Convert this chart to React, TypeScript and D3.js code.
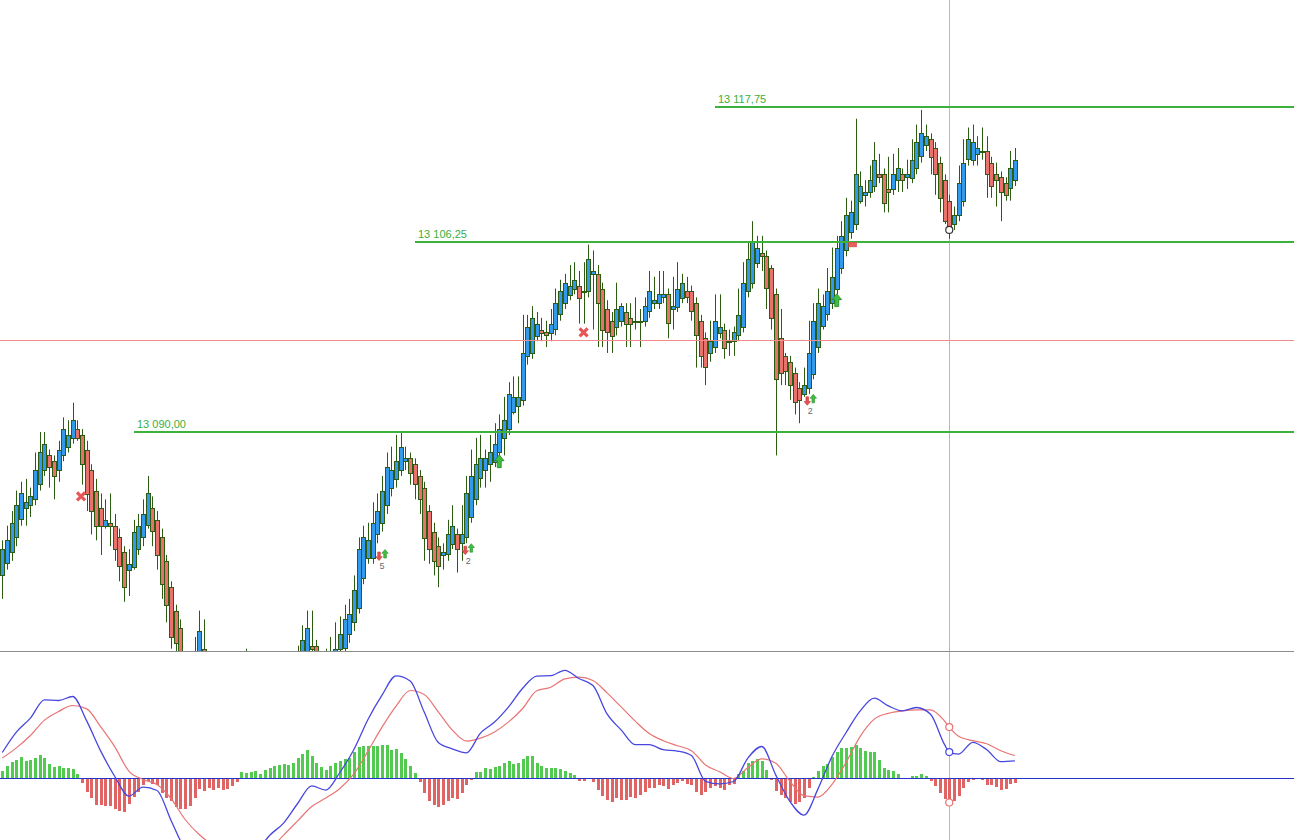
import * as d3 from "d3";
import { useEffect, useRef } from "react";

// OHLC per bar
const open = [
  13077.75, 13078.75, 13079.75, 13081, 13082.5, 13083.5, 13083.75, 13084.25, 13085.5, 13086.75,
  13088, 13087.5, 13086.75, 13088, 13088.75, 13089.5, 13090.25, 13089.75, 13088.5, 13086.75,
  13085, 13083.5, 13082, 13082.25, 13082, 13081, 13079.75, 13078.25, 13078.5, 13080,
  13081, 13082, 13083.5, 13082.5, 13081, 13079, 13076.75, 13074.75, 13073.25, 13069.5,
  13068.25, 13069.25, 13070.25, 13071.5, 13068.75, 13067, 13065.5, 13066.25, 13064.5, 13063.25,
  13064, 13066, 13068.75, 13068, 13066, 13064.5, 13065.5, 13064.25, 13065.75, 13067,
  13066.25, 13067.5, 13069, 13068.5, 13070.25, 13070.75, 13071.75, 13071.75, 13069.75, 13069,
  13070.25, 13070.5, 13071.5, 13071.5, 13072.75, 13073.75, 13075, 13077.5, 13079.25, 13079.25,
  13081.25, 13082.25, 13083.75, 13085.25, 13086, 13086.75, 13087.5, 13087.75, 13087.25, 13086.25,
  13085.25, 13083.25, 13081.5, 13080.25, 13079.5, 13079.5, 13080.5, 13081.25, 13080.5, 13081,
  13082.75, 13084.25, 13086, 13086.75, 13087.25, 13087.5, 13088.25, 13089.5, 13090.25, 13091.75,
  13092.25, 13092.75, 13096.5, 13096.75, 13098.25, 13098.75, 13098.5, 13098.5, 13098.75, 13100,
  13101, 13101.75, 13102.25, 13102.5, 13102, 13102, 13103.5, 13103.5, 13102.25, 13100.5,
  13099.5, 13099, 13099.5, 13100.25, 13099.75, 13099.5, 13099.5, 13099.5, 13100.25, 13101,
  13101, 13101.5, 13101.75, 13100.5, 13100.75, 13101.5, 13102, 13102, 13101, 13099.5,
  13098, 13096.75, 13097.25, 13098.5, 13098.75, 13097.75, 13097.75, 13098.25, 13099, 13102,
  13102.75, 13104.5, 13105.25, 13105, 13104, 13101.75, 13098, 13096.5, 13096, 13095,
  13093.75, 13093.25, 13093.75, 13095, 13097.25, 13099, 13100, 13101, 13102.25, 13104,
  13105.5, 13107, 13107.75, 13109.75, 13110.25, 13110.5, 13111, 13112, 13112, 13110.75,
  13110.75, 13111.5, 13112, 13111.75, 13111.75, 13112.5, 13113.5, 13114.5, 13115, 13114.25,
  13113, 13111.5, 13109.75, 13107.75, 13108.5, 13109.75, 13113.25, 13113.25, 13113.75, 13114,
  13114, 13113, 13112, 13111.75, 13111.25, 13110.75, 13111.5,
];

const high = [
  13080.75, 13082, 13083.25, 13085, 13085.75, 13086, 13085.25, 13088.25, 13090, 13090,
  13088.5, 13088, 13089.25, 13091.25, 13091, 13092.5, 13091, 13090.25, 13089.25, 13087.25,
  13086, 13084.75, 13084.25, 13084.75, 13083, 13081.75, 13080.25, 13080, 13082.5, 13083,
  13084.25, 13086.25, 13084.5, 13083.25, 13081.75, 13079.5, 13077.25, 13075.25, 13074, 13070.5,
  13069.75, 13072.5, 13074.75, 13074, 13070, 13068.5, 13067, 13067.75, 13066, 13064.75,
  13066.5, 13069.5, 13071.5, 13069.5, 13067.5, 13066, 13067, 13066.25, 13067.5, 13068.25,
  13068, 13069.5, 13070.25, 13071.75, 13073.5, 13074.75, 13074.75, 13072.25, 13070.75, 13071.5,
  13072.5, 13073.75, 13074.25, 13075.25, 13075.75, 13077.75, 13081, 13082, 13082.25, 13084,
  13084.75, 13086.25, 13088.25, 13088.75, 13089.75, 13090, 13088.75, 13088.25, 13087.75, 13086.75,
  13085.75, 13083.75, 13082.25, 13081, 13080.5, 13082.5, 13083.75, 13081.75, 13083.75, 13086.25,
  13088.5, 13089.5, 13089.75, 13088.5, 13089.75, 13090.75, 13091.5, 13093, 13094.25, 13094.75,
  13094.75, 13100, 13100, 13100.75, 13100.25, 13099.75, 13099.5, 13100.5, 13102.25, 13103,
  13103.5, 13104.25, 13104.5, 13103.75, 13104.5, 13106, 13105.5, 13104.25, 13102.75, 13101.25,
  13100.25, 13102.75, 13101, 13101, 13101, 13101.5, 13100.5, 13101.5, 13103.75, 13103.25,
  13103.75, 13103.75, 13102.25, 13103.25, 13104.5, 13103.5, 13103.25, 13102.5, 13101.5, 13100,
  13098.5, 13099.5, 13101.75, 13101.75, 13099.25, 13098.75, 13099, 13102.25, 13104.5, 13106.25,
  13108, 13106.75, 13106.75, 13105.5, 13104.25, 13102.25, 13100.5, 13096.75, 13096.5, 13095.5,
  13094.25, 13095.5, 13099.5, 13101, 13102.25, 13101.75, 13104, 13105.75, 13106.75, 13108,
  13110, 13109.75, 13116.75, 13112.25, 13111.5, 13112.75, 13114.75, 13113.75, 13112.5, 13113.5,
  13113.75, 13114.25, 13112.5, 13113.25, 13115, 13116.25, 13117.5, 13116.25, 13115.5, 13114.75,
  13113.5, 13112, 13110.25, 13109.25, 13112.75, 13115, 13116, 13116.25, 13115.25, 13116,
  13115.25, 13113.5, 13113, 13112.25, 13111.75, 13114, 13114.25,
];

const low = [
  13075.75, 13078.25, 13079, 13080.25, 13082, 13082, 13082.75, 13083.75, 13085, 13086.25,
  13085.25, 13084.25, 13085.75, 13087.5, 13088.25, 13089, 13089.25, 13085.5, 13083.25, 13081.25,
  13080.75, 13079.5, 13081.75, 13080.25, 13079, 13077.25, 13075.5, 13076, 13078.25, 13079.5,
  13080.25, 13081.75, 13080.25, 13078.25, 13075.75, 13073.75, 13071.5, 13070.5, 13068.5, 13067.75,
  13067, 13068.25, 13069.5, 13067.5, 13066.5, 13065, 13064.25, 13064, 13062.75, 13061.75,
  13063.5, 13065.25, 13067.5, 13065.5, 13064, 13063, 13063.75, 13063.5, 13064.75, 13065.5,
  13065.25, 13066.75, 13067.5, 13067.75, 13069.5, 13070, 13070, 13069, 13068.25, 13068.5,
  13069.25, 13069.75, 13070.75, 13070.75, 13072, 13073, 13074.5, 13077, 13078.75, 13078.75,
  13080.5, 13081.5, 13083, 13084.5, 13085.25, 13086.25, 13086.75, 13085.5, 13084.25, 13083,
  13079, 13078.75, 13077.75, 13076.75, 13078.25, 13079, 13080, 13078, 13079, 13080.5,
  13082.25, 13083.75, 13085.25, 13085.25, 13085.75, 13087, 13087.75, 13088, 13089.75, 13091.5,
  13090.75, 13092.25, 13095.75, 13096.25, 13097.75, 13097.75, 13097.25, 13097.75, 13098.25, 13099.5,
  13100.5, 13101.25, 13101.75, 13099.25, 13099.25, 13101.5, 13098.75, 13097.25, 13097.25, 13096.75,
  13096.75, 13098.25, 13099, 13097.25, 13097.25, 13098.75, 13097.25, 13099, 13099.75, 13100.5,
  13100.5, 13101, 13098, 13098.75, 13100.25, 13101, 13101, 13099.5, 13095.5, 13095.5,
  13094, 13096, 13096.75, 13098, 13096.25, 13096.5, 13096.5, 13097.75, 13098.5, 13101.5,
  13102.25, 13104, 13103.75, 13100.5, 13098.75, 13088, 13094, 13094, 13092.75, 13091.5,
  13090.75, 13093, 13093.25, 13094.5, 13096.75, 13098.75, 13099.5, 13100.5, 13101.75, 13103.5,
  13105, 13106.5, 13107.25, 13109.5, 13109.25, 13110, 13110.5, 13111.25, 13108.75, 13108.75,
  13110.25, 13110.5, 13110.5, 13110.75, 13111.25, 13112, 13113, 13114, 13112, 13110.25,
  13108.75, 13107.75, 13106.5, 13107.25, 13108, 13109.25, 13112.75, 13112.75, 13112.75, 13113.25,
  13110, 13110, 13109.25, 13108, 13109.75, 13109.75, 13111,
];

const close = [
  13080, 13080.75, 13082.25, 13083.75, 13084.75, 13084, 13084.5, 13086.75, 13088.25, 13089,
  13087, 13086.25, 13088.5, 13090.25, 13089.75, 13091, 13089.5, 13087.25, 13084.75, 13083.25,
  13082, 13082, 13082.5, 13082, 13080, 13078.5, 13076.75, 13078.75, 13081.5, 13082,
  13083, 13084.75, 13081.5, 13079.5, 13077, 13075.25, 13072.5, 13072, 13069.5, 13068.25,
  13069.25, 13070.5, 13073, 13068.75, 13067, 13065.5, 13066.25, 13064.5, 13063.25, 13064,
  13066, 13068.75, 13068, 13066, 13064.5, 13065.5, 13064.25, 13065.75, 13067, 13066.25,
  13067.5, 13069, 13068.5, 13070.5, 13072.25, 13073.25, 13071.5, 13069.75, 13069, 13070.25,
  13070.75, 13071.5, 13072.75, 13074, 13074.5, 13076.5, 13080, 13081, 13080.75, 13082.25,
  13083.25, 13085, 13087, 13086.75, 13087.5, 13088.75, 13087.75, 13086.5, 13085.5, 13084.25,
  13081, 13080, 13079, 13078.5, 13079.75, 13081.25, 13082, 13080, 13081.25, 13084.75,
  13086.25, 13087.25, 13087.75, 13087.75, 13088.25, 13089, 13090.25, 13091, 13093.25, 13093,
  13093, 13096.75, 13099, 13099.75, 13099.25, 13098.5, 13098.25, 13099.25, 13101, 13102,
  13102.75, 13102.5, 13103, 13101.5, 13102, 13104.75, 13103.75, 13101, 13098.75, 13098.5,
  13098.25, 13100.5, 13100.75, 13099.25, 13099.25, 13099.5, 13099.5, 13100.75, 13102, 13101.25,
  13101.75, 13101.75, 13099.25, 13100.75, 13102.25, 13102.75, 13101.5, 13100.25, 13098.25, 13096.5,
  13095.5, 13097.75, 13099.5, 13099, 13097.25, 13097.75, 13098.5, 13100, 13102.75, 13104.75,
  13106.25, 13105.75, 13105, 13102.25, 13099.75, 13094.5, 13095, 13095.25, 13094, 13092.5,
  13092.75, 13094, 13096.75, 13099.5, 13101, 13100.75, 13102, 13103.25, 13105.75, 13106.75,
  13108.5, 13108.75, 13112, 13111, 13110.5, 13111.5, 13113.25, 13111.75, 13109.5, 13110.5,
  13112, 13112.5, 13111.5, 13112, 13113.25, 13114.75, 13115.5, 13115.25, 13113.5, 13112,
  13110, 13108, 13107.25, 13108.5, 13111.25, 13113, 13115, 13114.75, 13114.25, 13114,
  13112, 13111, 13111.5, 13110.5, 13110.25, 13112.5, 13113.25,
];

// MACD histogram, one value per bar
const histogram = [
  0.32, 0.57, 0.77, 0.87, 1.02, 0.82, 0.87, 0.97, 1.12, 0.97, 0.67, 0.52, 0.57, 0.47, 0.47, 0.42, 0.17,
  -0.27, -0.72, -1.02, -1.37, -1.37, -1.42, -1.42, -1.57, -1.67, -1.72, -1.32, -0.97, -0.72, -0.35, -0.15, -0.3,
  -0.37, -0.77, -1.02, -1.17, -1.47, -1.57, -1.57, -1.42, -1.02, -0.57, -0.67, -0.52, -0.62, -0.52, -0.62, -0.57,
  -0.42, -0.22,
  0.27, 0.22, 0.27, 0.32, 0.17, 0.37, 0.47, 0.57, 0.62, 0.67, 0.62, 0.72, 0.97, 1.17, 1.37, 1.07, 0.72, 0.52,
  0.37, 0.57, 0.72, 0.82, 0.92, 0.97, 1.27, 1.52, 1.57, 1.57, 1.57, 1.57, 1.62, 1.62, 1.37, 1.42, 1.22, 0.92,
  0.57, 0.22,
  -0.22, -0.77, -1.17, -1.37, -1.47, -1.37, -1.17, -1.02, -1.07, -0.77, -0.37, -0.12,
  0.27, 0.27, 0.47, 0.42, 0.52, 0.57, 0.72, 0.82, 0.67, 0.72, 0.92, 1.07, 1.07, 0.72, 0.57, 0.47, 0.47, 0.47,
  0.42, 0.32, 0.22, 0.12,
  -0.15, -0.15, -0.08, -0.22, -0.62, -0.92, -1.12, -1.22, -1.02, -1.12, -1.12, -0.98, -1.02, -0.88, -0.72, -0.52,
  -0.52, -0.35, -0.42, -0.57, -0.35, -0.25, -0.15, -0.3, -0.35, -0.72, -0.88, -0.72, -0.52, -0.42, -0.52, -0.62,
  -0.35, -0.3,
  0.17, 0.32, 0.72, 0.82, 0.92, 0.82, 0.37,
  -0.1, -0.65, -0.85, -1.02, -1.22, -1.32, -1.22, -1.02, -0.52,
  0.02, 0.32, 0.57, 0.67, 1.02, 1.27, 1.47, 1.47, 1.52, 1.62, 1.47, 1.32, 1.27, 1.27, 0.87, 0.47, 0.37, 0.32, 0.17,
  -0.05, -0.05,
  0.07, 0.07, 0.17, 0.07,
  -0.15, -0.42, -0.77, -1.07, -1.25, -1.17, -0.92, -0.52, -0.22, -0.12, -0.03, -0.12, -0.37, -0.37, -0.47, -0.62,
  -0.57, -0.32, -0.27,
];

// MACD / signal lines, read at these bars
const lineIdx = [
  0, 3, 6, 9, 12, 15, 18, 21, 24, 27, 30, 33, 36, 39, 42, 45, 48, 51, 54, 57,
  60, 63, 66, 69, 72, 75, 78, 81, 84, 87, 90, 93, 96, 99, 102, 105, 108, 111, 114, 117,
  120, 123, 126, 129, 132, 135, 138, 141, 144, 147, 150, 153, 156, 159, 162, 165, 168, 171, 174, 177,
  180, 183, 186, 189, 192, 195, 198, 201, 202, 204, 207, 210, 213, 216,
];
const macdLine = [
  1.25, 2.27, 2.97, 3.88, 3.85, 4.05, 2.83, 1.32, 0.05, -0.93, -0.48, -0.65, -2.15, -3.6, -4.3, -4.8, -4.8, -4.4, -3.8, -2.9,
  -2.28, -1.3, -0.42, -0.63, 0.25, 1.4, 2.9, 4.12, 5.08, 4.82, 3.27, 1.75, 1.43, 1.23, 2.22, 2.77, 3.53, 4.46, 5.07, 5.09,
  5.36, 4.95, 4.6, 3.18, 2.38, 1.64, 1.64, 1.39, 1.32, 1.1, -0.19, -0.32, -0.2, 0.96, 1.55, 0.12, -1.2, -1.88, -0.57, 1.06,
  2.25, 3.33, 3.97, 3.58, 3.33, 3.5, 3.16, 1.64, 1.27, 1.17, 1.76, 1.39, 0.79, 0.83,
];
const signalLine = [
  0.97, 1.48, 2.1, 2.87, 3.3, 3.6, 3.43, 2.53, 1.53, 0.32, -0.1, -0.35, -1.05, -2.1, -2.85, -3.4, -3.8, -4.0, -3.9, -3.6,
  -2.88, -2.17, -1.45, -1.03, -0.55, 0.18, 1.32, 2.52, 3.57, 4.35, 4.15, 3.28, 2.37, 1.82, 1.97, 2.28, 2.78, 3.45, 4.34, 4.51,
  4.93, 5.02, 4.85, 4.23, 3.53, 2.82, 2.2, 1.84, 1.59, 1.34, 0.63, 0.29, -0.05, 0.49, 0.93, 0.71, -0.19, -0.91, -0.98, -0.34,
  0.76, 2.06, 2.92, 3.21, 3.33, 3.38, 3.38, 2.82, 2.52, 2.06, 1.84, 1.69, 1.34, 1.1,
];

// horizontal levels
const levels = [13090, 13106.25, 13117.75];
const levelLabels = ["13 090,00", "13 106,25", "13 117,75"];
const levelFrom = [28, 88, 152];
const refLevel = 13097.85;
const crossIndex = 202;

// signal markers
const crossMarkIdx = [16.8, 124];
const crossMarkPrice = [13084.5, 13098.5];
const bigUpIdx = [106, 178];
const bigUpPrice = [13087.5, 13101.25];
const pairIdx = [81, 99.4, 172.35];
const pairPrice = [13079.5, 13080, 13092.75];
const pairLabel = ["5", "2", "2"];
const boxIdx = 181.4;
const boxPrice = 13106;

const W = 1294;
const H = 840;

export default function App() {
  const ref = useRef<SVGSVGElement | null>(null);

  useEffect(() => {
    if (!ref.current) return;
    const svg = d3.select(ref.current);
    svg.selectAll("*").remove();

    const paneBottom = 651;
    const idx = d3.range(close.length);

    const x = d3.scaleLinear().domain([0, close.length - 1]).range([2.3, 1014.9]);
    const y = d3.scaleLinear().domain([13090, 13117.75]).range([432, 107]);
    const ym = d3.scaleLinear().domain([-3.125, 6.25]).range([840, 652.5]);
    const px = (i: number) => Math.round(x(i));

    svg.append("rect").attr("width", W).attr("height", H).attr("fill", "#fff");

    const defs = svg.append("defs");
    defs.append("clipPath").attr("id", "pane-main")
      .append("rect").attr("width", W).attr("height", paneBottom);
    defs.append("clipPath").attr("id", "pane-macd")
      .append("rect").attr("y", paneBottom + 1).attr("width", W).attr("height", H - paneBottom - 1);

    // crosshair
    svg.append("line")
      .attr("x1", px(crossIndex) + 0.5).attr("x2", px(crossIndex) + 0.5)
      .attr("y1", 0).attr("y2", H)
      .attr("stroke", "#e8a6ac").attr("stroke-width", 1);

    const main = svg.append("g").attr("clip-path", "url(#pane-main)");

    // candles
    const candles = main.append("g");
    candles.selectAll("line").data(idx).join("line")
      .attr("x1", (i) => px(i) + 0.5).attr("x2", (i) => px(i) + 0.5)
      .attr("y1", (i) => y(high[i])).attr("y2", (i) => y(low[i]))
      .attr("stroke", "#2b5c11").attr("stroke-width", 1);
    candles.selectAll("rect").data(idx).join("rect")
      .attr("x", (i) => px(i) - 1.5)
      .attr("y", (i) => Math.round(y(Math.max(open[i], close[i]))) + 0.5)
      .attr("width", 4)
      .attr("height", (i) => Math.max(1, Math.round(Math.abs(y(open[i]) - y(close[i])))))
      .attr("fill", (i) => (close[i] >= open[i] ? "#3399ea" : "#e8736c"))
      .attr("stroke", "#2b5c11").attr("stroke-width", 1);

    // reference line
    main.append("line")
      .attr("x1", 0).attr("x2", W)
      .attr("y1", Math.round(y(refLevel)) + 0.5).attr("y2", Math.round(y(refLevel)) + 0.5)
      .attr("stroke", "#f28b8b").attr("stroke-width", 1);

    // levels
    levels.forEach((lv, k) => {
      main.append("line")
        .attr("x1", px(levelFrom[k])).attr("x2", W)
        .attr("y1", Math.round(y(lv))).attr("y2", Math.round(y(lv)))
        .attr("stroke", "#3cb13c").attr("stroke-width", 2);
      main.append("text")
        .attr("x", px(levelFrom[k]) + 3).attr("y", Math.round(y(lv)) - 4)
        .attr("fill", "#3aaf3a").attr("font-size", 11)
        .attr("font-family", "'Liberation Sans', Arial, sans-serif")
        .text(levelLabels[k]);
    });

    // markers
    const upPath = "M0,-4.25L3.2,-0.4L1.3,-0.4L1.3,4.25L-1.3,4.25L-1.3,-0.4L-3.2,-0.4Z";
    crossMarkIdx.forEach((ci, k) => {
      main.append("path")
        .attr("transform", `translate(${x(ci)},${y(crossMarkPrice[k])})`)
        .attr("d", "M-4,-4L4,4M4,-4L-4,4")
        .attr("stroke", "#e55656").attr("stroke-width", 3.2).attr("fill", "none");
    });
    bigUpIdx.forEach((bi, k) => {
      main.append("path")
        .attr("transform", `translate(${x(bi)},${y(bigUpPrice[k])}) scale(1.5)`)
        .attr("d", upPath)
        .attr("fill", "#3fbf3f").attr("stroke", "#2a8a2a").attr("stroke-width", 0.6);
    });
    pairIdx.forEach((pi, k) => {
      const cx = x(pi);
      const cy = y(pairPrice[k]);
      main.append("path")
        .attr("transform", `translate(${cx - 3},${cy + 1.3}) scale(1,-1)`)
        .attr("d", upPath)
        .attr("fill", "#e85050").attr("stroke", "#b83a3a").attr("stroke-width", 0.6);
      main.append("path")
        .attr("transform", `translate(${cx + 3},${cy - 1.2})`)
        .attr("d", upPath)
        .attr("fill", "#3fbf3f").attr("stroke", "#2a8a2a").attr("stroke-width", 0.6);
      main.append("text")
        .attr("x", cx).attr("y", cy + 14.5)
        .attr("text-anchor", "middle")
        .attr("fill", "#6a6a6a").attr("font-size", 9)
        .attr("font-family", "'Liberation Sans', Arial, sans-serif")
        .text(pairLabel[k]);
    });
    main.append("rect")
      .attr("x", x(boxIdx) - 4).attr("y", y(boxPrice) - 2.3)
      .attr("width", 8).attr("height", 4.6)
      .attr("fill", "#e8605a").attr("stroke", "#d04848").attr("stroke-width", 0.5);

    main.append("circle")
      .attr("cx", x(crossIndex)).attr("cy", y(close[crossIndex]))
      .attr("r", 3.5).attr("fill", "#fff").attr("stroke", "#333").attr("stroke-width", 1.2);

    // pane separator
    svg.append("line")
      .attr("x1", 0).attr("x2", W)
      .attr("y1", paneBottom + 0.5).attr("y2", paneBottom + 0.5)
      .attr("stroke", "#8c8c8c").attr("stroke-width", 1);

    // MACD pane
    const macd = svg.append("g").attr("clip-path", "url(#pane-macd)");
    macd.append("g").attr("shape-rendering", "crispEdges")
      .selectAll("rect").data(idx).join("rect")
      .attr("x", (i) => px(i) - 1)
      .attr("width", 3)
      .attr("y", (i) => Math.min(ym(0), ym(histogram[i])))
      .attr("height", (i) => Math.abs(ym(histogram[i]) - ym(0)))
      .attr("fill", (i) => (histogram[i] >= 0 ? "#52c94f" : "#e06464"));

    macd.append("line")
      .attr("x1", 0).attr("x2", W)
      .attr("y1", Math.round(ym(0)) + 0.5).attr("y2", Math.round(ym(0)) + 0.5)
      .attr("stroke", "#2632c8").attr("stroke-width", 1);

    const k = d3.range(lineIdx.length);
    const signalPath = d3.line<number>()
      .x((j) => x(lineIdx[j])).y((j) => ym(signalLine[j]))
      .curve(d3.curveMonotoneX);
    const macdPath = d3.line<number>()
      .x((j) => x(lineIdx[j])).y((j) => ym(macdLine[j]))
      .curve(d3.curveMonotoneX);
    macd.append("path").attr("d", signalPath(k))
      .attr("fill", "none").attr("stroke", "#e87474").attr("stroke-width", 1.2);
    macd.append("path").attr("d", macdPath(k))
      .attr("fill", "none").attr("stroke", "#4747e0").attr("stroke-width", 1.3);

    const cj = lineIdx.indexOf(crossIndex);
    const cxm = x(crossIndex);
    macd.append("circle").attr("cx", cxm).attr("cy", ym(signalLine[cj]))
      .attr("r", 3.5).attr("fill", "#fff").attr("stroke", "#e87474").attr("stroke-width", 1.2);
    macd.append("circle").attr("cx", cxm).attr("cy", ym(macdLine[cj]))
      .attr("r", 3.5).attr("fill", "#fff").attr("stroke", "#4747e0").attr("stroke-width", 1.2);
    macd.append("circle").attr("cx", cxm).attr("cy", ym(histogram[crossIndex]))
      .attr("r", 3.5).attr("fill", "#fff").attr("stroke", "#e87474").attr("stroke-width", 1.2);
  }, []);

  return (
    <svg
      ref={ref}
      width={W}
      height={H}
      style={{ position: "absolute", left: 0, top: 0, display: "block" }}
    />
  );
}
